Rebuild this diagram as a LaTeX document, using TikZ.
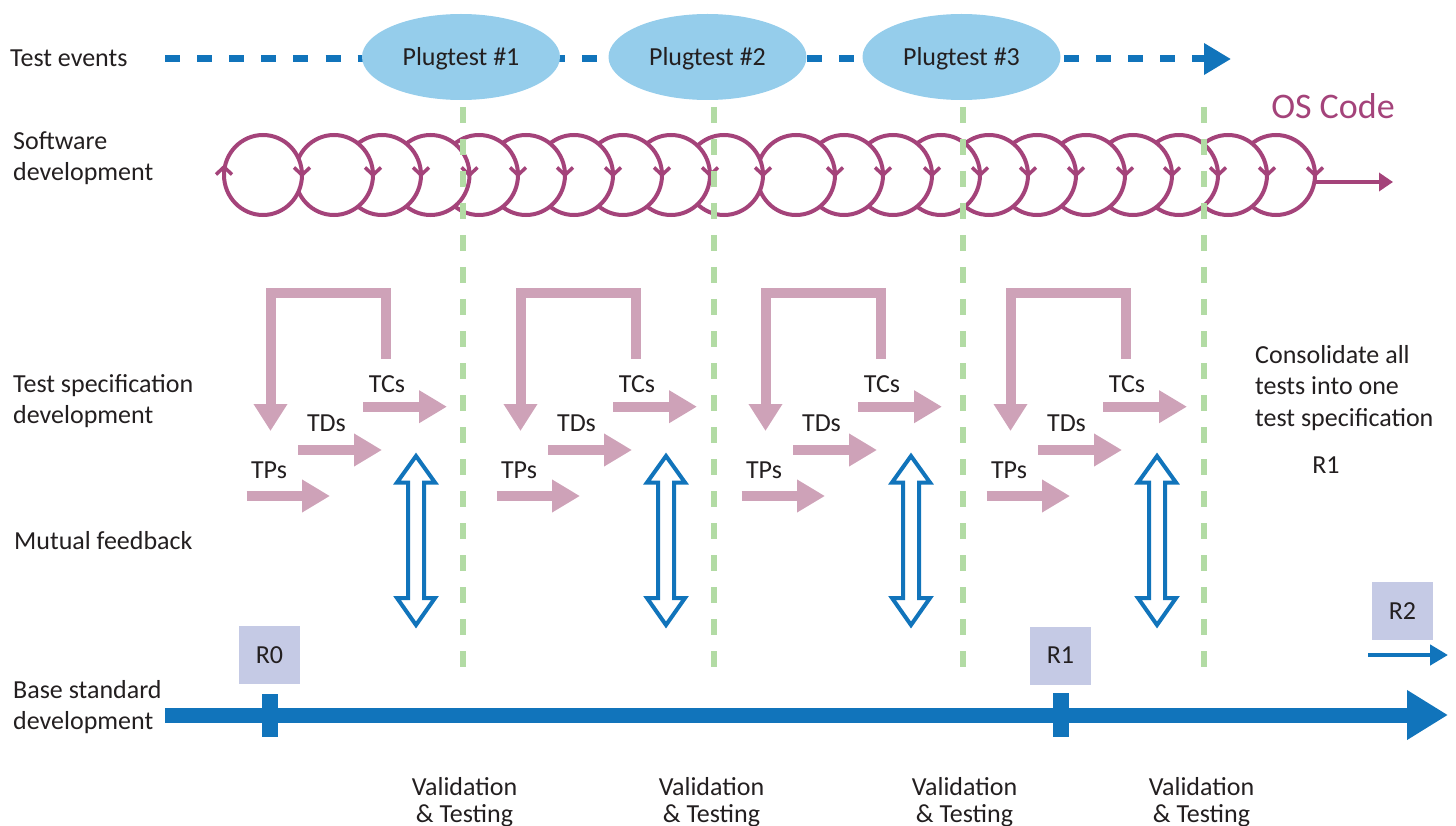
\documentclass[tikz,border=0pt]{standalone}
\usepackage{fontspec}
\setmainfont{Carlito}
\usetikzlibrary{arrows.meta,shapes.geometric}
\definecolor{tblue}{RGB}{17,116,187}
\definecolor{eblue}{RGB}{149,205,235}
\definecolor{loopc}{RGB}{164,67,122}
\definecolor{pinkc}{RGB}{206,162,184}
\definecolor{greenc}{RGB}{178,219,164}
\definecolor{rbox}{RGB}{197,202,229}
\definecolor{txt}{RGB}{35,31,32}
\begin{document}
\begin{tikzpicture}[x=1pt,y=-1pt,
  every node/.style={text=txt, font=\fontsize{26}{31.5}\selectfont, inner sep=0pt},
  lbl/.style={anchor=west, align=left},
  plug/.style={ellipse, fill=eblue, minimum width=198pt, minimum height=86pt, text height=22pt, text depth=5pt},
  rel/.style={fill=rbox, minimum width=61pt, minimum height=58pt},
  pinkarrow/.style={draw=pinkc, line width=10pt, -{Triangle[width=31pt,length=28pt]}},
  bracketarrow/.style={draw=pinkc, line width=10pt, line join=miter, -{Triangle[width=32pt,length=27pt]}},
  dblarrow/.style={draw=tblue, line width=4pt, fill=white, line join=miter},
  loopline/.style={draw=loopc, line width=4pt},
  markline/.style={draw=loopc, line width=3.5pt},
  greendash/.style={draw=greenc, line width=6pt, dash pattern=on 16pt off 16pt},
  vtlabel/.style={align=center, font=\fontsize{26}{27}\selectfont}
]
\useasboundingbox (0,0) rectangle (1456,826);

% ---------- Test events ----------
\coordinate (te0) at (165,59);
\coordinate (te1) at (1231,59);
\draw[tblue, line width=7pt, dash pattern=on 15pt off 17.1pt, -{Triangle[width=30pt,length=27pt]}] (te0) -- (te1);
\node[plug] (p1) at (461,57) {Plugtest \#1};
\node[plug] (p2) at (707.5,57) {Plugtest \#2};
\node[plug] (p3) at (961.5,57) {Plugtest \#3};

% ---------- left labels ----------
\node[lbl] (lte) at (10,58) {Test events};
\node[lbl] (lsd) at (13,158) {Software\\development};
\node[lbl] (ltsd) at (13,401) {Test specification\\development};
\node[lbl] (lmf) at (14,541) {Mutual feedback};
\node[lbl] (lbsd) at (13,707) {Base standard\\development};

% ---------- software development loops ----------
\foreach \k in {1315,1267,1218,1172,1125,1076,1028,980,932,883,835,763,710,662,613,565,518,469.5,421,373,302} {
  \draw[loopline, fill=white] ({\k-39},175) ellipse[x radius=39pt, y radius=40pt];
}
\foreach \k in {1315,1267,1218,1172,1125,1076,1028,980,932,883,835,763,710,662,613,565,518,469.5,421,373,302} {
  \draw[markline] ({\k-8},167.5) -- (\k,175) -- ({\k+8},167.5);
}
\draw[markline] (216,174.5) -- (224,167) -- (232,174.5);
\coordinate (os0) at (1315,182);
\coordinate (os1) at (1393,182);
\draw[loopline, -{Triangle[width=18pt,length=14pt]}] (os0) -- (os1);
\node[text=loopc, font=\fontsize{36}{40}\selectfont] (os) at (1333,106) {OS Code};

% ---------- green dashed separators ----------
\foreach \x [count=\i] in {463,714,963,1204} {
  \coordinate (g\i a) at (\x,107);
  \coordinate (g\i b) at (\x,680);
  \draw[greendash] (g\i a) -- (g\i b);
}

% ---------- test specification groups ----------
\foreach \o [count=\i] in {0,250,495,740} {
  \coordinate (b\i a) at ({385.5+\o},359);
  \coordinate (b\i b) at ({385.5+\o},293);
  \coordinate (b\i c) at ({270.5+\o},293);
  \coordinate (b\i d) at ({270.5+\o},431);
  \draw[bracketarrow] (b\i a) -- (b\i b) -- (b\i c) -- (b\i d);
  \coordinate (tc\i a) at ({363+\o},406.7);
  \coordinate (tc\i b) at ({447+\o},406.7);
  \draw[pinkarrow] (tc\i a) -- (tc\i b);
  \coordinate (td\i a) at ({298+\o},450);
  \coordinate (td\i b) at ({382+\o},450);
  \draw[pinkarrow] (td\i a) -- (td\i b);
  \coordinate (tp\i a) at ({246.7+\o},496);
  \coordinate (tp\i b) at ({330+\o},496);
  \draw[pinkarrow] (tp\i a) -- (tp\i b);
  \node (tcs\i) at ({387+\o},384) {TCs};
  \node (tds\i) at ({326.5+\o},423) {TDs};
  \node (tps\i) at ({269+\o},470) {TPs};
}

% ---------- mutual feedback double arrows ----------
\foreach \c in {416,666,911,1157} {
  \draw[dblarrow] (\c,456) -- ({\c+19},482.5) -- ({\c+8},482.5) -- ({\c+8},598) -- ({\c+19},598) -- (\c,625)
    -- ({\c-19},598) -- ({\c-8},598) -- ({\c-8},482.5) -- ({\c-19},482.5) -- cycle;
}

% ---------- right text ----------
\node[lbl] (lcons) at (1255,388) {Consolidate all\\tests into one\\test specification};
\node (r1txt) at (1326,465) {R1};

% ---------- base standard ----------
\coordinate (bs0) at (165,715);
\coordinate (bs1) at (1448,715);
\draw[tblue, line width=15pt, -{Triangle[width=47pt,length=41pt]}] (bs0) -- (bs1);
\fill[tblue] (262,694) rectangle (278,737);
\fill[tblue] (1053,693) rectangle (1069,737);
\node[rel] (r0) at (269.5,655) {R0};
\node[rel] (r1) at (1060.5,655.5) {R1};
\node[rel] (r2) at (1402.5,611) {R2};
\coordinate (r2a) at (1368,655);
\coordinate (r2b) at (1448,655);
\draw[tblue, line width=4.5pt, -{Triangle[width=20pt,length=18pt]}] (r2a) -- (r2b);

% ---------- validation labels ----------
\node[vtlabel] (v1) at (464.5,802) {Validation\\\& Testing};
\node[vtlabel] (v2) at (711.5,802) {Validation\\\& Testing};
\node[vtlabel] (v3) at (964.5,802) {Validation\\\& Testing};
\node[vtlabel] (v4) at (1201.5,802) {Validation\\\& Testing};
\end{tikzpicture}
\end{document}
